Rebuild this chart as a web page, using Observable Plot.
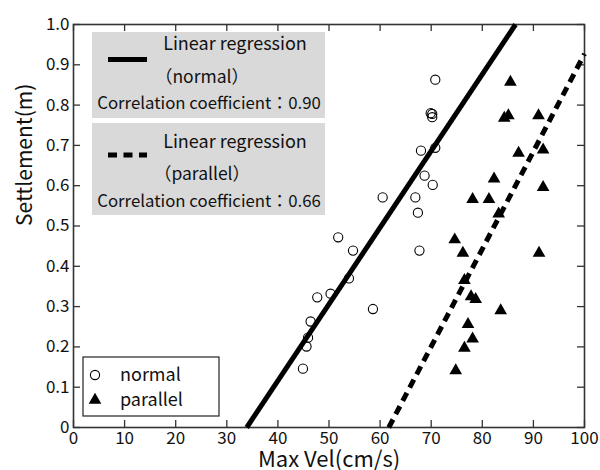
<!DOCTYPE html>
<html>
<head>
<meta charset="utf-8">
<script src="https://cdn.jsdelivr.net/npm/d3@7"></script>
<script src="https://cdn.jsdelivr.net/npm/@observablehq/plot@0.6"></script>
<style>
  html, body { margin: 0; padding: 0; background: #fff; }
  svg { display: block; }
</style>
</head>
<body>
<div id="chart"></div>
<script>
// ---- data ----
const normalX = [44.9, 45.6, 45.9, 46.4, 47.7, 50.3, 51.8, 53.9, 54.7, 58.6, 60.5, 66.9, 67.4, 67.7, 68.0, 68.7, 69.9, 70.2, 70.2, 70.3, 70.8, 70.8];
const normalY = [0.146, 0.201, 0.223, 0.263, 0.323, 0.332, 0.472, 0.370, 0.439, 0.294, 0.571, 0.571, 0.533, 0.439, 0.687, 0.625, 0.780, 0.778, 0.770, 0.602, 0.694, 0.863];
const parallelX = [74.8, 76.5, 78.1, 77.2, 83.6, 77.8, 78.7, 76.5, 74.6, 76.2, 91.1, 78.1, 81.3, 83.2, 82.3, 91.9, 87.1, 91.9, 84.3, 85.1, 91.0, 85.5];
const parallelY = [0.141, 0.197, 0.220, 0.256, 0.290, 0.325, 0.318, 0.365, 0.466, 0.433, 0.433, 0.566, 0.566, 0.530, 0.617, 0.596, 0.681, 0.689, 0.768, 0.774, 0.774, 0.857];
const regNormalX = [33.9, 86.5];
const regNormalY = [0, 1.0];
const regParallelX = [61.7, 100];
const regParallelY = [0, 0.927];
const xTicks = [0, 10, 20, 30, 40, 50, 60, 70, 80, 90, 100];
const yTicks = [0, 0.1, 0.2, 0.3, 0.4, 0.5, 0.6, 0.7, 0.8, 0.9, 1.0];
const yTickLabels = ["0", "0.1", "0.2", "0.3", "0.4", "0.5", "0.6", "0.7", "0.8", "0.9", "1.0"];
const xTitle = "Max Vel(cm/s)";
const yTitle = "Settlement(m)";
const seriesNames = ["normal", "parallel"];
const regLegend = [
  {title: "Linear regression", sub: "（normal）", corr: "Correlation coefficient：0.90"},
  {title: "Linear regression", sub: "（parallel）", corr: "Correlation coefficient：0.66"}
];

// ---- tables ----
const normal = normalX.map((x, i) => ({x, y: normalY[i]}));
const parallel = parallelX.map((x, i) => ({x, y: parallelY[i]}));
const regN = regNormalX.map((x, i) => ({x, y: regNormalY[i]}));
const regP = regParallelX.map((x, i) => ({x, y: regParallelY[i]}));

const W = 600, H = 470, mL = 73, mR = 16, mT = 24, mB = 43;
const plotW = W - mL - mR, plotH = H - mT - mB;
const tickLen = 7;
const FONT = "'Noto Sans CJK JP', 'Noto Sans', sans-serif";
const axisColor = "#333";

const chart = Plot.plot({
  width: W, height: H,
  marginLeft: mL, marginRight: mR, marginTop: mT, marginBottom: mB,
  style: {fontFamily: FONT, fontSize: "17px", color: "#111", background: "#fff"},
  x: {domain: [0, 100]},
  y: {domain: [0, 1]},
  marks: [
    Plot.axisX({ticks: xTicks, tickSize: 0, tickPadding: 4, label: null, fontSize: 17, tickFormat: d => String(d)}),
    Plot.axisY({ticks: yTicks, tickSize: 0, tickPadding: 4, label: null, fontSize: 17, tickFormat: d => yTickLabels[yTicks.indexOf(d)]}),
    // inward ticks
    Plot.tickX(xTicks, {x: d => d, insetTop: plotH - tickLen, stroke: axisColor, strokeWidth: 1.3}),
    Plot.tickX(xTicks, {x: d => d, insetBottom: plotH - tickLen, stroke: axisColor, strokeWidth: 1.3}),
    Plot.tickY(yTicks, {y: d => d, insetRight: plotW - tickLen, stroke: axisColor, strokeWidth: 1.3}),
    Plot.tickY(yTicks, {y: d => d, insetLeft: plotW - tickLen, stroke: axisColor, strokeWidth: 1.3}),
    Plot.frame({stroke: axisColor, strokeWidth: 1.6}),
    // regression lines
    Plot.line(regN, {x: "x", y: "y", stroke: "#000", strokeWidth: 5, strokeLinecap: "butt"}),
    Plot.line(regP, {x: "x", y: "y", stroke: "#000", strokeWidth: 5, strokeLinecap: "butt", strokeDasharray: "9,6"}),
    // points
    Plot.dot(normal, {x: "x", y: "y", r: 4.6, stroke: "#000", strokeWidth: 1.1, fill: "none"}),
    Plot.dot(parallel, {x: "x", y: "y", r: 4.7, symbol: "triangle", fill: "#000", stroke: "none"}),
    // axis titles
    Plot.text([xTitle], {frameAnchor: "bottom", dy: 39, lineAnchor: "bottom", fontSize: 22, fill: "#111"}),
    Plot.text([yTitle], {frameAnchor: "left", rotate: -90, dx: -48, fontSize: 21, fill: "#111"})
  ]
});

document.getElementById("chart").appendChild(chart);

// ---- legends (pixel-positioned overlays) ----
const svg = d3.select(chart);
const lg = svg.append("g").attr("font-family", FONT).attr("fill", "#111").attr("text-anchor", "start");

// regression legend boxes
const boxes = [
  {y: 32, h: 86, lineY: 59.5, dash: null, ty: [44, 77, 103]},
  {y: 123, h: 92, lineY: 155, dash: "9,6.5", ty: [141.5, 173.5, 201]}
];
boxes.forEach((b, i) => {
  lg.append("rect").attr("x", 92).attr("y", b.y).attr("width", 233).attr("height", b.h).attr("fill", "#d9d9d9");
  const ln = lg.append("line").attr("x1", 108).attr("x2", 147).attr("y1", b.lineY).attr("y2", b.lineY)
    .attr("stroke", "#000").attr("stroke-width", 5);
  if (b.dash) ln.attr("stroke-dasharray", b.dash);
  lg.append("text").attr("x", 235).attr("y", b.ty[0]).attr("dy", "0.35em").attr("text-anchor", "middle")
    .attr("font-size", 18).text(regLegend[i].title);
  lg.append("text").attr("x", 202).attr("y", b.ty[1]).attr("dy", "0.35em").attr("text-anchor", "middle")
    .attr("font-size", 17.5).text(regLegend[i].sub);
  lg.append("text").attr("x", 209).attr("y", b.ty[2]).attr("dy", "0.35em").attr("text-anchor", "middle")
    .attr("font-size", 16.8).text(regLegend[i].corr);
});

// series legend
lg.append("rect").attr("x", 83).attr("y", 357).attr("width", 136).attr("height", 59)
  .attr("fill", "#fff").attr("stroke", "#222").attr("stroke-width", 1.2);
lg.append("circle").attr("cx", 95).attr("cy", 375).attr("r", 4.6).attr("fill", "none").attr("stroke", "#000").attr("stroke-width", 1.1);
lg.append("path").attr("transform", "translate(95,400)").attr("d", d3.symbol(d3.symbolTriangle, Math.PI * 4.7 * 4.7)()).attr("fill", "#000");
lg.append("text").attr("x", 120).attr("y", 375).attr("dy", "0.35em").attr("text-anchor", "start").attr("font-size", 18).text(seriesNames[0]);
lg.append("text").attr("x", 120).attr("y", 400).attr("dy", "0.35em").attr("text-anchor", "start").attr("font-size", 18).text(seriesNames[1]);
</script>
</body>
</html>
